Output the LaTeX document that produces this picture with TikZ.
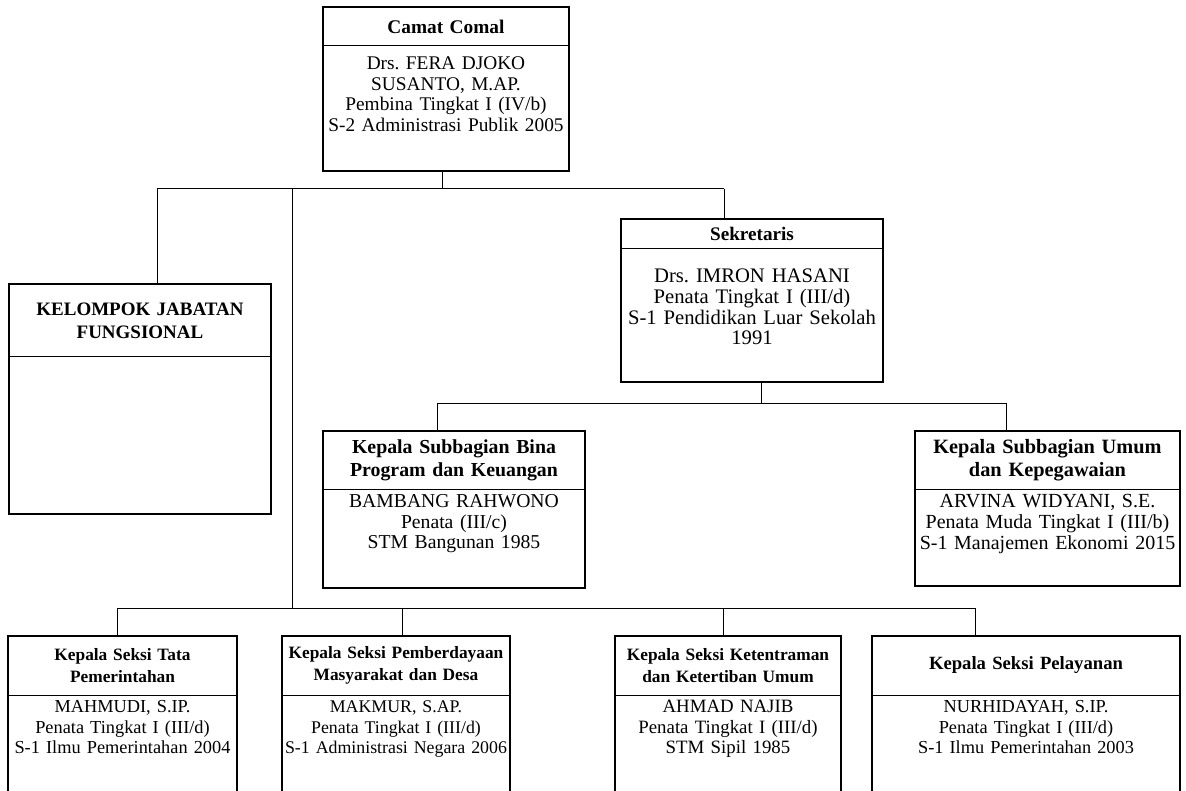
\documentclass[tikz,border=0pt]{standalone}
\usepackage{fontspec}
\setmainfont{Liberation Serif}
\usepackage{tikz}
\usetikzlibrary{positioning}
\frenchspacing

\begin{document}
\begin{tikzpicture}[
    x=0.6pt, y=-0.6pt,
    judul/.style n args={2}{anchor=north west, minimum height=#1, inner xsep=-8pt, inner ysep=0pt,
                  outer sep=0pt, align=center, font=\fontsize{#2}{13.6}\selectfont\bfseries},
    isi/.style n args={2}{below=0pt of #1, inner xsep=-8pt, inner ysep=0pt, outer sep=0pt,
                align=center, font=\fontsize{#2}{12.4}\selectfont},
    bingkai/.style={line width=1.2pt},
    garis/.style={line width=0.6pt},
]
%% Halaman: 1186 x 791, bagian bawah kotak terpotong
\path[use as bounding box] (0,0) rectangle (1186,791);
\clip (0,0) rectangle (1186,791);

%% Camat (text width = lebar kotak + 16pt)
\node[judul={23.4pt}{11.6}, text width=163.6pt] at (323,7) (camat) {Camat Comal};
\node[isi={camat}{11.6}, text width=163.6pt, text height=14.2pt, text depth=60.8pt] (camat-b)
     {Drs. FERA DJOKO\\SUSANTO, M.AP.\\Pembina Tingkat I (IV/b)\\S-2 Administrasi Publik 2005};

%% Kelompok jabatan fungsional
\node[judul={43.8pt}{11.4}, text width=173.2pt] at (9,284) (kjf) {KELOMPOK JABATAN\\FUNGSIONAL};
\node[isi={kjf}{11}, text width=173.2pt, text height=0pt, text depth=94.2pt] (kjf-b) {};

%% Sekretaris dan subbagian
\node[judul={18pt}{11.5}, text width=173.2pt] at (621,219) (sek) {Sekretaris};
\node[isi={sek}{12.4}, text width=173.2pt, text height=20.4pt, text depth=59.4pt] (sek-b)
     {Drs. IMRON HASANI\\Penata Tingkat I (III/d)\\S-1 Pendidikan Luar Sekolah\\1991};

\node[judul={34.8pt}{11.9}, text width=173.2pt] at (323,431) (bina) {Kepala Subbagian Bina\\Program dan Keuangan};
\node[isi={bina}{11.8}, text width=173.2pt, text height=11pt, text depth=48.4pt] (bina-b)
     {BAMBANG RAHWONO\\Penata (III/c)\\STM Bangunan 1985};

\node[judul={34.8pt}{12.2}, text width=175pt] at (915,431) (umum) {Kepala Subbagian Umum\\dan Kepegawaian};
\node[isi={umum}{12}, text width=175pt, text height=11.2pt, text depth=47pt] (umum-b)
     {ARVINA WIDYANI, S.E.\\Penata Muda Tingkat I (III/b)\\S-1 Manajemen Ekonomi 2015};

%% Seksi-seksi
\node[judul={35.4pt}{10.4}, text width=153.4pt] at (8,636) (tata) {Kepala Seksi Tata\\Pemerintahan};
\node[isi={tata}{11}, text width=153.4pt, text height=10.4pt, text depth=80pt] (tata-b)
     {MAHMUDI, S.IP.\\Penata Tingkat I (III/d)\\S-1 Ilmu Pemerintahan 2004};

\node[judul={35.4pt}{10.4}, text width=152.8pt] at (282,636) (pmd) {Kepala Seksi Pemberdayaan\\Masyarakat dan Desa};
\node[isi={pmd}{10.7}, text width=152.8pt, text height=10.4pt, text depth=80pt] (pmd-b)
     {MAKMUR, S.AP.\\Penata Tingkat I (III/d)\\S-1 Administrasi Negara 2006};

\node[judul={35.4pt}{10.4}, text width=151.6pt] at (615,636) (ktb) {Kepala Seksi Ketentraman\\dan Ketertiban Umum};
\node[isi={ktb}{11.3}, text width=151.6pt, text height=10.4pt, text depth=80pt] (ktb-b)
     {AHMAD NAJIB\\Penata Tingkat I (III/d)\\STM Sipil 1985};

\node[judul={35.4pt}{11.2}, text width=200.8pt] at (872,636) (pel) {Kepala Seksi Pelayanan};
\node[isi={pel}{11}, text width=200.8pt, text height=10.4pt, text depth=80pt] (pel-b)
     {NURHIDAYAH, S.IP.\\Penata Tingkat I (III/d)\\S-1 Ilmu Pemerintahan 2003};

%% Bingkai kotak
\foreach \n in {camat,kjf,sek,bina,umum,tata,pmd,ktb,pel} {
  \draw[bingkai] (\n.north west) rectangle (\n-b.south east);
  \draw[garis] (\n.south west) -- (\n.south east);
}

%% Garis hubung
\coordinate (busA-l) at (157,189);
\coordinate (busA-r) at (724,189);
\coordinate (tulang) at (292,189);
\coordinate (busB-l) at (437,403);
\coordinate (busB-r) at (1006,403);
\coordinate (busC-l) at (117,608);
\coordinate (busC-r) at (975,608);
\coordinate (tapC2)  at (402,608);
\coordinate (tapC3)  at (723,608);

\draw[garis] ([xshift=-2.4pt]camat-b.south) -- ([xshift=-2.4pt]camat-b.south |- busA-l);
\draw[garis] (busA-l) -- (busA-r);
\draw[garis] (busA-l) -- (busA-l |- kjf.north);
\draw[garis] (busA-r) -- (busA-r |- sek.north);
\draw[garis] (tulang) -- (tulang |- busC-l);

\draw[garis] ([xshift=5.4pt]sek-b.south) -- ([xshift=5.4pt]sek-b.south |- busB-l);
\draw[garis] (busB-l) -- (busB-r);
\draw[garis] (busB-l) -- (busB-l |- bina.north);
\draw[garis] (busB-r) -- (busB-r |- umum.north);

\draw[garis] (busC-l) -- (busC-r);
\foreach \t/\n in {busC-l/tata, tapC2/pmd, tapC3/ktb, busC-r/pel}
  \draw[garis] (\t) -- (\t |- \n.north);
\end{tikzpicture}
\end{document}
